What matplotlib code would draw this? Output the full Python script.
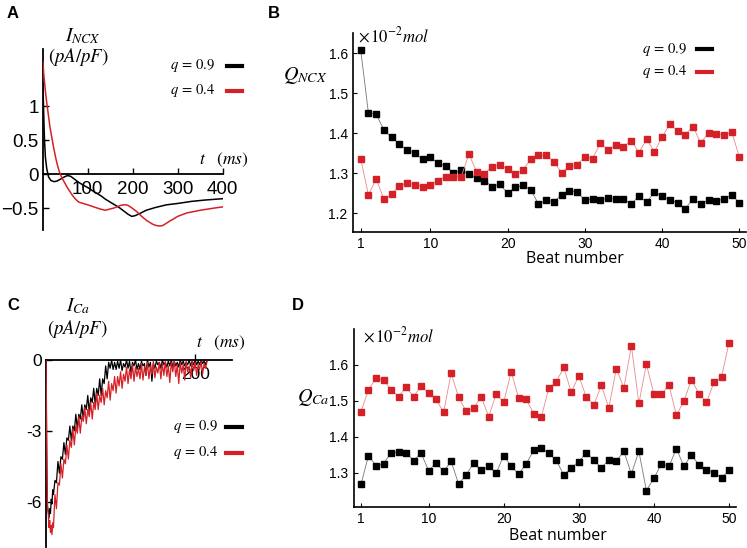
import matplotlib
matplotlib.use("Agg")
import matplotlib.pyplot as plt
from matplotlib.lines import Line2D
import numpy as np

plt.rcParams['mathtext.fontset'] = 'stix'
plt.rcParams['font.family'] = ['Liberation Sans', 'DejaVu Sans']

RED = '#d42027'
W, H = 747, 548

# ---------------- Panel A data: I_NCX traces ----------------
tA_09 = [0, 1, 2, 3, 4, 6, 9, 13, 18, 25, 32, 40, 48, 55, 62, 70, 80, 90, 101, 110,
         120, 130, 140, 150, 160, 170, 180, 190, 198, 205, 215, 230, 250, 275, 300, 330, 360, 400]
iA_09 = [1.35, 1.2, 0.95, 0.7, 0.5, 0.25, 0.08, -0.04, -0.09, -0.11, -0.1, -0.07, -0.04, -0.02,
         -0.03, -0.07, -0.12, -0.16, -0.2, -0.24, -0.28, -0.32, -0.37, -0.41, -0.45, -0.49, -0.54,
         -0.59, -0.62, -0.61, -0.58, -0.53, -0.49, -0.45, -0.43, -0.4, -0.38, -0.36]
tA_04 = [0.5, 1, 3, 6, 9, 12, 16, 20, 24, 28, 31, 35, 38.5, 44, 50, 55, 61, 66, 72, 80,
         90, 100, 109, 118, 127, 133, 139, 145, 150, 157, 165, 172, 179, 185, 190, 197, 203, 209,
         220, 231, 243, 250, 257, 263, 268, 275, 282, 290, 300, 320, 350, 379, 400]
iA_04 = [1.65, 1.6, 1.42, 1.22, 1.05, 0.9, 0.7, 0.55, 0.4, 0.27, 0.18, 0.08, 0.01, -0.07, -0.14,
         -0.2, -0.26, -0.31, -0.36, -0.41, -0.43, -0.45, -0.47, -0.49, -0.51, -0.52, -0.53, -0.52,
         -0.51, -0.5, -0.48, -0.46, -0.45, -0.45, -0.46, -0.49, -0.52, -0.55, -0.62, -0.68, -0.73,
         -0.75, -0.76, -0.76, -0.75, -0.72, -0.69, -0.66, -0.62, -0.57, -0.53, -0.5, -0.48]

# ---------------- Panel C data: I_Ca traces ----------------
tC = [0, 0.5, 1, 1.5, 2, 3, 4, 5, 6, 7, 8, 9, 10] + list(range(12, 218, 2))
iC_04 = [0, -1.5, -3.6, -5.1, -6.2, -6.5, -7.1, -6.8, -7.3, -7.0, -7.4, -6.9, -7.1,
         -5.7, -6.3, -5.2, -5.3, -4.4, -5.0, -4.2, -4.4, -3.6, -4.2,
         -3.4, -3.7, -2.9, -3.6, -2.8, -3.1, -2.4, -3.1, -2.4, -2.6,
         -2.0, -2.7, -2.1, -2.4, -1.8, -2.5, -1.8, -2.1, -1.4, -2.1,
         -1.5, -1.8, -1.2, -1.9, -1.3, -1.6, -0.9, -1.7, -1.0, -1.3,
         -0.7, -1.4, -0.7, -1.1, -0.5, -1.2, -0.6, -0.9, -0.3, -1.0,
         -0.4, -0.8, -0.2, -0.9, -0.3, -0.7, -0.35, -0.8, -0.15, -0.85,
         -0.3, -0.65, -0.1, -0.8, -0.25, -0.6, -0.05, -0.75, -0.3, -0.55,
         -0.1, -0.8, -0.15, -0.65, -0.05, -0.7, -0.25, -0.95, -0.1, -0.5,
         -0.05, -0.7, -0.2, -1.0, -0.1, -0.55, -0.2, -0.85, -0.05, -0.5,
         -0.25, -0.75, -0.05, -0.45, -0.1, -0.65, -0.2, -0.4, -0.05, -0.6,
         -0.15, -0.35, -0.05]
iC_09 = [0, -2.0, -4.3, -5.6, -6.2, -6.4, -6.7, -6.3, -6.5, -5.9, -6.1, -5.5, -5.7,
         -5.1, -5.2, -4.3, -4.8, -4.1, -4.2, -3.5, -4.0, -3.3, -3.4, 
         -2.8, -3.4, -2.8, -3.0, -2.3, -2.9, -2.3, -2.5, -1.9, -2.5,
         -1.9, -2.1, -1.5, -2.2, -1.6, -1.8, -1.2, -1.9, -1.2, -1.5,
         -0.8, -1.5, -0.8, -1.0, -0.25, -0.8, -0.1, -0.35, 0.0, -0.4,
         -0.1, -0.4, -0.05, -0.35, 0.0, -0.45, -0.15, -0.3, 0.0, -0.35,
         -0.05, -0.55, -0.1, -0.25, 0.0, -0.4, -0.15, -0.4, -0.05, -0.25,
         -0.15, -0.65, 0.0, -0.3, -0.1, -0.9, -0.15, -0.35, -0.05, -0.2,
         -0.1, -0.35, 0.0, -0.2, -0.1, -0.3, -0.05, -0.25, 0.0, -0.3,
         -0.05, -0.25, -0.1, -0.3, 0.0, -0.2, -0.05, -0.25, -0.1, -0.2,
         0.0, -0.25, -0.05, -0.2, 0.0, -0.2, -0.05, -0.2, 0.0, -0.15,
         -0.05, -0.2, 0.0]

# ---------------- Panels B, D data: per-beat charge ----------------
beats = list(range(1, 51))
qncx_09 = [1.608, 1.45, 1.448, 1.408, 1.39, 1.373, 1.358, 1.35, 1.335, 1.34,
           1.325, 1.319, 1.30, 1.308, 1.298, 1.288, 1.282, 1.267, 1.273, 1.25,
           1.265, 1.27, 1.259, 1.223, 1.233, 1.228, 1.247, 1.257, 1.253, 1.233,
           1.237, 1.233, 1.238, 1.235, 1.237, 1.223, 1.243, 1.228, 1.253, 1.243,
           1.233, 1.227, 1.211, 1.237, 1.223, 1.233, 1.231, 1.236, 1.245, 1.227]
qncx_04 = [1.336, 1.246, 1.286, 1.235, 1.248, 1.269, 1.276, 1.271, 1.267, 1.272,
           1.281, 1.292, 1.292, 1.291, 1.348, 1.304, 1.299, 1.317, 1.322, 1.310,
           1.298, 1.309, 1.335, 1.345, 1.345, 1.329, 1.301, 1.319, 1.322, 1.341,
           1.337, 1.375, 1.358, 1.372, 1.367, 1.382, 1.352, 1.385, 1.354, 1.391,
           1.423, 1.406, 1.397, 1.417, 1.375, 1.402, 1.398, 1.395, 1.404, 1.34]
qca_09 = [1.268, 1.348, 1.32, 1.326, 1.355, 1.357, 1.356, 1.334, 1.355, 1.306,
          1.328, 1.304, 1.332, 1.269, 1.294, 1.328, 1.307, 1.318, 1.299, 1.348,
          1.318, 1.297, 1.325, 1.363, 1.37, 1.354, 1.335, 1.294, 1.314, 1.331,
          1.356, 1.335, 1.314, 1.336, 1.333, 1.36, 1.297, 1.36, 1.251, 1.285,
          1.325, 1.318, 1.367, 1.318, 1.351, 1.321, 1.309, 1.301, 1.286, 1.307]
qca_04 = [1.47, 1.531, 1.563, 1.558, 1.531, 1.512, 1.538, 1.512, 1.541, 1.522,
          1.505, 1.468, 1.577, 1.51, 1.471, 1.48, 1.512, 1.456, 1.519, 1.496,
          1.581, 1.507, 1.505, 1.464, 1.454, 1.535, 1.553, 1.593, 1.524, 1.57,
          1.51, 1.489, 1.543, 1.481, 1.59, 1.536, 1.653, 1.493, 1.602, 1.519,
          1.518, 1.544, 1.46, 1.5, 1.559, 1.52, 1.496, 1.552, 1.566, 1.662]

fig = plt.figure(figsize=(W / 100, H / 100), dpi=100)


def rect(l, r, t, b):
    return [l / W, 1 - b / H, (r - l) / W, (b - t) / H]


def fx(x):
    return x / W


def fy(y):
    return 1 - y / H


def zero_axes(ax):
    ax.spines['left'].set_position(('data', 0))
    ax.spines['bottom'].set_position(('data', 0))
    ax.spines['right'].set_visible(False)
    ax.spines['top'].set_visible(False)
    for s in ('left', 'bottom'):
        ax.spines[s].set_linewidth(1.3)
    ax.set_axisbelow(True)
    ax.patch.set_alpha(0)
    ax.tick_params(direction='in', length=4, width=1, labelsize=13.5, pad=3)


# ---------- Panel A ----------
axA = fig.add_axes(rect(42.7, 222.7, 49, 230))
axA.plot(tA_09, iA_09, color='black', lw=1.1, zorder=3)
axA.plot(tA_04, iA_04, color=RED, lw=1.1, zorder=3)
axA.set_xlim(0, 400)
axA.set_ylim(-0.82, 1.84)
zero_axes(axA)
axA.tick_params(axis='x', pad=5)
axA.set_xticks([100, 200, 300, 400])
axA.set_xticklabels(['100', '200', '300', '400'])
axA.set_yticks([-0.5, 0, 0.5, 1])
axA.set_yticklabels(['\u22120.5', '0', '0.5', '1'])

# ---------- Panel C ----------
axC = fig.add_axes(rect(46, 231.7, 360, 546.7))
axC.plot(tC, iC_09, color='black', lw=0.9, zorder=3)
axC.plot(tC, iC_04, color=RED, lw=0.9, zorder=4)
axC.set_xlim(0, 249)
axC.set_ylim(-7.91, 0)
zero_axes(axC)
axC.tick_params(labelsize=12.5)
axC.tick_params(axis='x', pad=5)
axC.set_xticks([200])
axC.set_xticklabels(['200'])
axC.set_yticks([-6, -3, 0])
axC.set_yticklabels(['-6', '-3', '0'])


# ---------- Panels B and D ----------
def beat_axes(ax, xlim, ylim, yticks):
    ax.set_xlim(*xlim)
    ax.set_ylim(*ylim)
    ax.spines['right'].set_visible(False)
    ax.spines['top'].set_visible(False)
    for s in ('left', 'bottom'):
        ax.spines[s].set_linewidth(1.2)
    ax.set_xticks([1, 10, 20, 30, 40, 50])
    ax.set_yticks(yticks)
    ax.set_yticklabels([f'{v:.1f}' for v in yticks])
    ax.tick_params(direction='in', length=3, width=0.8, labelsize=10, pad=4)
    ax.patch.set_alpha(0)


axB = fig.add_axes(rect(353.3, 746, 33.3, 231.7))
axB.plot(beats, qncx_09, color='#777777', lw=0.6, marker='s', ms=4.6,
         mfc='black', mec='black', zorder=3)
axB.plot(beats, qncx_04, color='#e88a8c', lw=0.6, marker='s', ms=4.6,
         mfc=RED, mec=RED, zorder=3)
beat_axes(axB, (0.04, 50.85), (1.154, 1.65), [1.2, 1.3, 1.4, 1.5, 1.6])

axD = fig.add_axes(rect(354, 736, 329.3, 506.7))
axD.plot(beats, qca_09, color='#777777', lw=0.6, marker='s', ms=4.6,
         mfc='black', mec='black', zorder=3)
axD.plot(beats, qca_04, color='#e88a8c', lw=0.6, marker='s', ms=4.6,
         mfc=RED, mec=RED, zorder=3)
beat_axes(axD, (0.07, 50.93), (1.206, 1.699), [1.3, 1.4, 1.5, 1.6])

# ---------- texts ----------
for lab, x, y in [('A', 7, 14), ('B', 268, 14), ('C', 7, 305), ('D', 292, 305)]:
    fig.text(fx(x), fy(y), lab, fontsize=12, fontweight='bold', ha='left', va='center',
             family=['Liberation Sans', 'DejaVu Sans'])

fig.text(fx(83), fy(36), r'$I_{NCX}$', fontsize=14, ha='center', va='center')
fig.text(fx(78), fy(57), r'$(pA/pF)$', fontsize=13.5, ha='center', va='center')
fig.text(fx(224), fy(160), r'$t\quad(ms)$', fontsize=12.5, ha='center', va='center')

fig.text(fx(78), fy(306), r'$I_{Ca}$', fontsize=14, ha='center', va='center')
fig.text(fx(77), fy(329), r'$(pA/pF)$', fontsize=13.5, ha='center', va='center')
fig.text(fx(221), fy(343), r'$t\quad(ms)$', fontsize=12.5, ha='center', va='center')

fig.text(fx(305), fy(75), r'$Q_{NCX}$', fontsize=14.5, ha='center', va='center')
fig.text(fx(313), fy(397), r'$Q_{Ca}$', fontsize=14.5, ha='center', va='center')
fig.text(fx(358), fy(35), r'$\times\,10^{-2}mol$', fontsize=12, ha='left', va='center')
fig.text(fx(363), fy(335), r'$\times\,10^{-2}mol$', fontsize=12, ha='left', va='center')

fig.text(fx(575), fy(259), 'Beat number', fontsize=11.5, ha='center', va='center',
         family=['Open Sans', 'DejaVu Sans'])
fig.text(fx(558), fy(536), 'Beat number', fontsize=11.5, ha='center', va='center',
         family=['Open Sans', 'DejaVu Sans'])

# legends
legends = [
    (215, 227, 242, 66, 90.7),
    (687, 697, 712, 49, 71.7),
    (218, 226, 242, 426.7, 452.7),
]
for tx, l0, l1, y9, y4 in legends:
    fig.text(fx(tx), fy(y9), r'$q\,=\,0.9$', fontsize=10.5, ha='right', va='center')
    fig.text(fx(tx), fy(y4), r'$q\,=\,0.4$', fontsize=10.5, ha='right', va='center')
    fig.add_artist(Line2D([fx(l0), fx(l1)], [fy(y9), fy(y9)], color='black', lw=3,
                          transform=fig.transFigure))
    fig.add_artist(Line2D([fx(l0), fx(l1)], [fy(y4), fy(y4)], color=RED, lw=3,
                          transform=fig.transFigure))

fig.savefig('out.png', dpi=100)
